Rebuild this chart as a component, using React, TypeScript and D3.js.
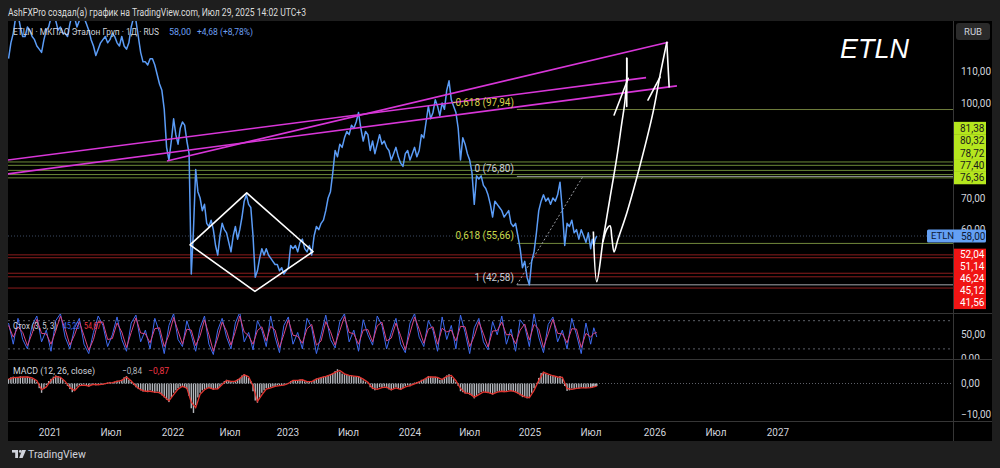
import React from 'react';
import * as d3 from 'd3';

const W = 1000;
const H = 468;

// ---------- data ----------
const headerText = 'AshFXPro создал(а) график на TradingView.com, Июл 29, 2025 14:02 UTC+3';
const symbolText = 'ETLN · МКПАО Эталон Груп · 1Д · RUS';
const lastPriceText = '58,00';
const changeText = '+4,68 (+8,78%)';

// weekly closes from 2020-08-31 to 2025-07-28
const seriesStart = new Date(2020, 7, 31);
const closeWeekly = [
  114, 119, 122, 127, 128, 124, 121, 121, 124, 123,
  121, 120, 118, 117, 116, 120, 123, 124, 127, 128,
  126, 123, 124, 122, 122, 121, 125, 128, 127, 124,
  126, 129, 127, 125, 123, 120, 118, 115, 117, 119,
  120, 121, 119, 120, 122, 121, 119, 118, 121, 118,
  117, 119, 124, 127, 126, 121, 116, 113, 113, 112,
  114, 114, 112, 109, 106, 104, 98, 86, 82, 88,
  95, 90, 87, 92, 94, 93, 88, 84, 46, 60,
  79, 72, 70, 66, 68, 62, 61, 63, 60, 55,
  52, 58, 62, 60, 59, 56, 53, 58, 61, 57,
  60, 64, 69, 71, 68, 67, 58, 45, 47, 51,
  54, 52, 54, 52, 51, 50, 49, 49, 47, 48,
  46, 47, 48, 55, 54, 55, 53, 56, 57, 54,
  53, 55, 52, 58, 61, 60, 62, 63, 66, 70,
  72, 78, 85, 83, 87, 86, 89, 91, 90, 93,
  92, 94, 97, 92, 88, 91, 90, 85, 88, 84,
  87, 90, 87, 88, 86, 85, 82, 84, 86, 83,
  81, 80, 84, 85, 82, 84, 86, 83, 85, 90,
  89, 94, 99, 95, 97, 101, 99, 96, 100, 98,
  104, 107, 101, 99, 97, 92, 82, 89, 87, 84,
  82, 78, 68, 77, 76, 77, 74, 73, 71, 68,
  64, 69, 68, 67, 66, 64, 65, 66, 62, 61,
  62, 58, 54, 48, 50, 45, 42.58, 50, 53, 59,
  66, 69, 71, 69, 70, 68, 70, 69, 71, 75,
  66, 55, 62, 61, 63, 59, 60, 57, 60, 58,
  56, 59, 54, 57, 55, 57, 58,
];

// stochastic (3,5,3), every two weeks
const stochK = [
  75, 30, 85, 40, 20, 70, 90, 35, 60, 15,
  80, 95, 45, 20, 65, 85, 30, 10, 55, 90,
  70, 25, 50, 88, 40, 15, 75, 92, 35, 60,
  20, 85, 55, 10, 70, 95, 40, 25, 80, 50,
  15, 65, 90, 30, 8, 60, 85, 45, 20, 75,
  98, 35, 55, 18, 80, 60, 25, 90, 45, 12,
  70, 88, 30, 55, 20, 85, 65, 10, 50, 92,
  40, 22, 78, 95, 35, 60, 15, 82, 50, 28,
  90, 70, 20, 55, 85, 30, 12, 75, 95, 45,
  25, 80, 60, 15, 88, 40, 70, 20, 92, 55,
  10, 65, 85, 35, 18, 78, 50, 90, 30, 62,
  15, 82, 68, 25, 95, 45, 12, 72, 88, 35,
  60, 20, 85, 50, 10, 75, 30, 65, 45.23,
];
const stochD = [
  70, 45, 67, 55, 27, 53, 83, 53, 52, 30,
  58, 90, 62, 28, 50, 78, 48, 17, 40, 78,
  77, 40, 42, 75, 56, 23, 55, 86, 54, 52,
  33, 63, 65, 25, 50, 87, 58, 30, 62, 60,
  27, 48, 82, 50, 15, 43, 77, 58, 28, 57,
  90, 56, 48, 30, 59, 67, 37, 68, 60, 23,
  51, 82, 49, 47, 32, 63, 72, 28, 37, 78,
  57, 28, 59, 89, 55, 52, 30, 60, 61, 35,
  69, 77, 37, 43, 75, 48, 18, 54, 88, 62,
  32, 62, 67, 30, 64, 56, 60, 37, 68, 67,
  25, 47, 78, 52, 24, 58, 59, 77, 50, 51,
  31, 60, 73, 39, 72, 62, 23, 52, 83, 53,
  52, 33, 63, 62, 23, 53, 45, 53, 54.67,
];

// MACD (12, 26, close): weekly histogram, signal every two weeks
const macdHist = [
  1.5, 2, 2.2, 1.8, 2, 2.3, 2.1, 1.9, 2.2, 2,
  1.6, 1.2, 0.5, -1.5, -3, -1.8, -0.5, 0.8, 1.5, 2.2,
  2.6, 2.4, 1.8, 1.2, 0.2, -0.8, -1.8, -2.8, -2, -1,
  -0.5, -0.8, -0.3, -0.6, -1, -0.4, -0.2, -0.6, -0.3, 0.2,
  -0.4, -0.2, 0.3, 0.5, 0.2, 0.6, 0.9, 0.7, 1.2, 2,
  2.4, 1.2, 0.5, -0.5, -1.2, -1.8, -2.2, -2.6, -2.4, -2.8,
  -2.2, -2.5, -3, -2.6, -3.2, -3.8, -4.5, -5.2, -6, -4.5,
  -3, -2.2, -1.5, -1, -0.8, -1.2, -1.8, -4, -8, -9.5,
  -7, -4.5, -3, -2.2, -1.8, -1.4, -1.2, -1.6, -2, -1.6,
  -1.8, -1, 0.2, 0.8, 1.2, 0.9, 0.5, 0.4, 0.9, 1.4,
  1.8, 2.6, 3, 2.6, 1.8, 0.8, -2.5, -5.5, -6.2, -4.5,
  -3, -2.2, -1.5, -1.6, -1.2, -1, -0.8, -0.6, -0.8, -0.5,
  -0.4, -0.3, 0.2, 0.8, 1.1, 0.9, 1, 1.3, 1.1, 0.7,
  0.5, 0.8, 0.4, 1.2, 1.6, 1.8, 2, 2.2, 2.4, 2.7,
  3, 3.3, 4, 4.6, 3.8, 3.2, 3, 2.8, 2.5, 2.6,
  2.3, 2.1, 2.4, 1.8, 1, 0.6, 0.3, -1.2, -1.8, -2.2,
  -1.6, -1.2, -1.4, -1, -1.5, -1.9, -2.2, -1.6, -1.2, -1.8,
  -2.1, -1.5, -0.8, -0.6, -0.9, -0.4, 0.3, 0.5, 0.6, 1.2,
  1.4, 1.8, 2.4, 2.2, 2, 2.2, 1.8, 1.2, 1.5, 2,
  2.6, 3, 2.2, 1.4, 0.5, -0.8, -2.5, -2.8, -3.2, -3,
  -3.6, -4, -4.8, -4, -3.2, -2.8, -2.6, -2.8, -3, -3.2,
  -3.6, -3, -2.6, -2.4, -2.6, -2.8, -2.4, -2.2, -2.5, -2.6,
  -2.8, -3.2, -3.8, -4.4, -4.2, -4.8, -4.4, -3, -1.5, 0.2,
  1.8, 3.4, 3.8, 3.2, 2.8, 2.6, 2.4, 2.2, 2, 2.4,
  1.6, -0.8, -2.4, -2.2, -1.6, -1.8, -1.4, -1.6, -1.2, -1.4,
  -1.5, -1.2, -1.4, -1.3, -1, -0.9, -0.84,
];
const macdSignal = [
  1.4, 1.9, 2.0, 2.1, 2.1, 1.8, 0.9, -2.0, -1.1, 1.1,
  2.3, 2.0, 0.7, -1.3, -2.3, -0.7, -0.5, -0.8, -0.3, -0.4,
  -0.2, 0.1, 0.3, 0.7, 1.0, 2.1, 0.8, -0.9, -2.0, -2.5,
  -2.5, -2.8, -2.9, -4.2, -5.6, -3.6, -1.8, -0.9, -1.5, -6.0,
  -7.8, -3.5, -2.0, -1.3, -1.8, -1.7, -0.3, 1.0, 0.7, 0.7,
  1.6, 2.8, 2.2, -0.8, -5.8, -3.7, -1.8, -1.4, -0.9, -0.7,
  -0.5, 0.0, 1.0, 1.0, 1.2, 0.6, 0.6, 1.4, 1.9, 2.3,
  2.8, 3.6, 4.2, 3.1, 2.6, 2.4, 2.2, 1.4, 0.4, -1.5,
  -1.9, -1.3, -1.2, -2.0, -1.4, -1.9, -1.1, -0.7, -0.1, 0.5,
  1.3, 2.1, 2.1, 2.0, 1.3, 2.3, 2.6, 0.9, -1.6, -3.0,
  -3.3, -4.4, -3.6, -2.7, -2.9, -3.4, -2.8, -2.5, -2.6, -2.3,
  -2.7, -3.5, -4.3, -4.6, -2.2, 1.0, 3.6, 3.0, 2.5, 2.1,
  2.0, -1.6, -1.9, -1.6, -1.4, -1.4, -1.3, -1.1, -0.87,
];

// horizontal levels
const greenLevels = [81.38, 80.32, 78.72, 77.4, 76.36];
const redLevels = [52.04, 51.14, 46.24, 45.12, 41.56];
const lastPrice = 58;

// fibonacci retracement
const fibRatios = ['-0,618', '0', '0,618', '1'];
const fibValues = [97.94, 76.8, 55.66, 42.58];
const fibColors = ['#d9cf4c', '#c9ccd4', '#c8d84a', '#c9ccd4'];
const fibLineColors = ['#6f7d3c', '#8d8f95', '#72883c', '#a5a7ad'];
const fibAnchorA: [string, number] = ['2024-11-22', 42.58];
const fibAnchorB: [string, number] = ['2025-06-07', 76.8];

// trend lines (magenta)
const trendLines: [string, number][][] = [
  [['2021-12-14', 81.7], ['2026-02-09', 119.2]],
  [['2020-08-29', 82.0], ['2025-12-08', 108.0]],
  [['2020-08-29', 77.6], ['2026-03-07', 105.4]],
];

// diamond pattern
const diamond: [string, number][] = [
  ['2022-02-24', 55.2], ['2022-08-23', 71.6], ['2023-03-17', 53.1], ['2022-09-18', 40.5],
];

// hand-drawn forecast arrows
const arrowA: [string, number][] = [
  ['2025-07-12', 59.4], ['2025-07-28', 43.6], ['2025-08-15', 57.3], ['2025-09-02', 70.0],
  ['2025-09-20', 82.6], ['2025-10-03', 93.1], ['2025-10-12', 100.4], ['2025-10-17', 107.8],
  ['2025-10-17', 114.2],
];
const arrowAHead: [string, number][][] = [
  [['2025-10-17', 114.2], ['2025-10-17', 98.9]],
  [['2025-09-13', 96.2], ['2025-10-21', 107.8]],
];
const arrowB: [string, number][] = [
  ['2025-08-14', 56.2], ['2025-08-25', 60.3], ['2025-09-02', 61.2], ['2025-09-07', 57.4],
  ['2025-09-13', 53.0], ['2025-09-23', 56.8], ['2025-10-18', 65.6], ['2025-11-22', 80.4],
  ['2025-12-27', 97.2], ['2026-01-16', 108.8], ['2026-02-05', 119.2],
];
const arrowBHead: [string, number][][] = [
  [['2026-02-05', 119.2], ['2026-02-12', 105.1]],
  [['2025-12-13', 100.9], ['2026-01-16', 108.2]],
];

// axes
const priceTicks = [110, 100, 70, 60];
const stochTicks = [50, 0];
const macdTicks = [0, -10];
const timeTickDates = [
  '2021-01-01', '2021-07-01', '2022-01-01', '2022-07-01', '2023-01-01', '2023-07-01', '2024-01-01',
  '2024-07-01', '2025-01-01', '2025-07-01', '2026-01-01', '2026-07-01', '2027-01-01',
];
const timeTickLabels = ['2021', 'Июл', '2022', 'Июл', '2023', 'Июл', '2024', 'Июл', '2025', 'Июл', '2026', 'Июл', '2027'];

// TradingView's time axis is bar-based, so the calendar is squeezed unevenly
const timeAnchors = ['2021-01-01', '2022-01-01', '2023-01-01', '2024-01-01', '2025-01-01', '2025-07-01', '2025-07-29', '2026-01-01', '2027-01-01'];
const timeAnchorX = [50, 173, 288, 410, 530, 591, 597, 655, 778];

// ---------- layout ----------
const L = 8;
const AXIS_X = 953;
const RIGHT = 992;
const MAIN = { top: 21, bottom: 313 };
const STOCH = { top: 314, bottom: 359 };
const MACD = { top: 360, bottom: 421 };
const TIME = { top: 422, bottom: 441 };

const FONT = "Roboto, 'DejaVu Sans', sans-serif";
const TXT = '#d1d4dc';

const parseDay = d3.timeParse('%Y-%m-%d') as (s: string) => Date;
const fmt = (v: number) => d3.format('.2f')(v).replace('.', ',');

export default function App() {
  const x = d3.scaleTime().domain(timeAnchors.map(parseDay)).range(timeAnchorX);
  const yP = d3.scaleLinear().domain([100, 70]).range([103, 198]);
  const yS = d3.scaleLinear().domain([0, 100]).range([358.3, 311.3]);
  const yM = d3.scaleLinear().domain([0, -10]).range([383.5, 414.5]);

  const weekDate = (i: number) => d3.timeDay.offset(seriesStart, 7 * i);
  const biDate = (j: number) => d3.timeDay.offset(seriesStart, 14 * j);

  const priceLine = d3.line<number>().x((_, i) => x(weekDate(i))).y((d) => yP(d))(closeWeekly) || '';
  const kLine = d3.line<number>().x((_, j) => x(biDate(j))).y((d) => yS(d))(stochK) || '';
  const dLine = d3.line<number>().x((_, j) => x(biDate(j))).y((d) => yS(d))(stochD) || '';
  const sigLine = d3.line<number>().x((_, j) => x(biDate(j))).y((d) => yM(d))(macdSignal) || '';

  const pt = d3.line<[string, number]>().x((d) => x(parseDay(d[0]))).y((d) => yP(d[1]));
  const curvy = d3.line<[string, number]>().x((d) => x(parseDay(d[0]))).y((d) => yP(d[1])).curve(d3.curveCatmullRom.alpha(0.5));
  const closed = d3.line<[string, number]>().x((d) => x(parseDay(d[0]))).y((d) => yP(d[1])).curve(d3.curveLinearClosed);

  // price-axis label stacking (labels pushed apart like TradingView does)
  const greenSorted = [...greenLevels].sort((a, b) => a - b);
  const greenY: number[] = [];
  greenSorted.forEach((p, k) => {
    const y0 = yP(p);
    greenY.push(k === 0 ? y0 : Math.min(y0, greenY[k - 1] - 12.4));
  });
  const redSorted = [...redLevels].sort((a, b) => b - a);
  const redY: number[] = [];
  redSorted.forEach((p, k) => {
    const y0 = yP(p);
    redY.push(k === 0 ? y0 : Math.max(y0, redY[k - 1] + 12));
  });

  const fibX0 = x(parseDay(fibAnchorA[0]));
  const yLast = yP(lastPrice);

  return (
    <div>
      <style>{'body{margin:0;background:#1e1e1e;}'}</style>
      <svg width={W} height={H} style={{ display: 'block', fontFamily: FONT }}>
        <defs>
          <clipPath id="clipMain"><rect x={L} y={MAIN.top} width={AXIS_X - L} height={MAIN.bottom - MAIN.top} /></clipPath>
          <clipPath id="clipStoch"><rect x={L} y={STOCH.top} width={AXIS_X - L} height={STOCH.bottom - STOCH.top} /></clipPath>
          <clipPath id="clipMacd"><rect x={L} y={MACD.top} width={AXIS_X - L} height={MACD.bottom - MACD.top} /></clipPath>
          <clipPath id="clipAxS"><rect x={AXIS_X} y={STOCH.top} width={RIGHT - AXIS_X} height={STOCH.bottom - STOCH.top} /></clipPath>
          <clipPath id="clipAxM"><rect x={AXIS_X} y={MACD.top} width={RIGHT - AXIS_X} height={MACD.bottom - MACD.top} /></clipPath>
        </defs>

        <rect x={0} y={0} width={W} height={H} fill="#1e1e1e" />
        <text x={8} y={16} fill="#dcdcdc" fontSize={10} textLength={298} lengthAdjust="spacingAndGlyphs">{headerText}</text>

        {/* chart frame */}
        <rect x={L} y={MAIN.top} width={RIGHT - L} height={TIME.bottom - MAIN.top} fill="#000" />

        {/* ---------- main pane ---------- */}
        <g clipPath="url(#clipMain)">
          {greenLevels.map((p) => (
            <line key={'g' + p} x1={L} x2={AXIS_X} y1={yP(p)} y2={yP(p)} stroke="#6c8a38" strokeWidth={1} />
          ))}
          {redLevels.map((p) => (
            <line key={'r' + p} x1={L} x2={AXIS_X} y1={yP(p)} y2={yP(p)} stroke="#8c1d1d" strokeWidth={1} />
          ))}
          <line x1={L} x2={AXIS_X} y1={yLast} y2={yLast} stroke="#3d4a63" strokeDasharray="1,2" />

          {fibValues.map((v, k) => (
            <line key={'f' + k} x1={fibX0} x2={AXIS_X} y1={yP(v)} y2={yP(v)} stroke={fibLineColors[k]} strokeWidth={1} />
          ))}
          <path d={pt([fibAnchorA, fibAnchorB]) || ''} stroke="#9a9ca2" strokeWidth={1} strokeDasharray="2,2" fill="none" />

          <path d={priceLine} stroke="#5b9cf6" strokeWidth={1.5} fill="none" strokeLinejoin="round" />

          {trendLines.map((seg, k) => (
            <path key={'t' + k} d={pt(seg) || ''} stroke="#d836d8" strokeWidth={1.6} fill="none" />
          ))}

          <path d={closed(diamond) || ''} stroke="#fff" strokeWidth={1.6} fill="none" strokeLinejoin="round" />
          <path d={curvy(arrowA) || ''} stroke="#fff" strokeWidth={1.6} fill="none" strokeLinejoin="round" />
          <path d={curvy(arrowB) || ''} stroke="#fff" strokeWidth={1.6} fill="none" strokeLinejoin="round" />
          {[...arrowAHead, ...arrowBHead].map((seg, k) => (
            <path key={'h' + k} d={pt(seg) || ''} stroke="#fff" strokeWidth={1.6} fill="none" strokeLinecap="round" />
          ))}

          {fibValues.map((v, k) => (
            <text key={'fl' + k} x={fibX0 - 3} y={yP(v) - 4} fill={fibColors[k]} fontSize={10} textAnchor="end">
              {`${fibRatios[k]} (${fmt(v)})`}
            </text>
          ))}
        </g>

        {/* legend */}
        <text x={13} y={35} fontSize={8.5} fill={TXT} textLength={146} lengthAdjust="spacingAndGlyphs">{symbolText}</text>
        <text x={169} y={35} fontSize={9} fill="#6c9ff0" textLength={22} lengthAdjust="spacingAndGlyphs">{lastPriceText}</text>
        <text x={197} y={35} fontSize={9} fill="#6c9ff0" textLength={56} lengthAdjust="spacingAndGlyphs">{changeText}</text>
        <text x={840} y={58} fontSize={27} fontStyle="italic" fill="#fff" fontFamily="'Liberation Sans', Arial, sans-serif">ETLN</text>

        {/* ---------- stochastic pane ---------- */}
        <g clipPath="url(#clipStoch)">
          {[80, 20].map((v) => (
            <line key={'s' + v} x1={L} x2={AXIS_X} y1={yS(v)} y2={yS(v)} stroke="#5d6068" strokeDasharray="2,3" />
          ))}
          <path d={kLine} stroke="#3f6cf2" strokeWidth={1} fill="none" />
          <path d={dLine} stroke="#d94582" strokeWidth={1} fill="none" />
        </g>
        <text x={13} y={329} fontSize={8.5} fill={TXT} textLength={44} lengthAdjust="spacingAndGlyphs">Стох (3, 5, 3)</text>
        <text x={63} y={329} fontSize={9} fill="#3f6cf2" textLength={17} lengthAdjust="spacingAndGlyphs">{fmt(stochK[stochK.length - 1])}</text>
        <text x={84} y={329} fontSize={9} fill="#f23645" textLength={17} lengthAdjust="spacingAndGlyphs">{fmt(stochD[stochD.length - 1])}</text>

        {/* ---------- MACD pane ---------- */}
        <g clipPath="url(#clipMacd)">
          <line x1={L} x2={AXIS_X} y1={yM(0)} y2={yM(0)} stroke="#5d6068" strokeDasharray="1,2" />
          {macdHist.map((v, i) => {
            const cx = x(weekDate(i));
            const y0 = yM(0);
            const y1 = yM(v);
            return <rect key={'m' + i} x={cx - 0.7} width={1.4} y={Math.min(y0, y1)} height={Math.max(0.6, Math.abs(y1 - y0))} fill="#b4b7bd" />;
          })}
          <path d={sigLine} stroke="#e0342f" strokeWidth={1.3} fill="none" />
        </g>
        <text x={13} y={374} fontSize={9.5} fill={TXT} textLength={82} lengthAdjust="spacingAndGlyphs">MACD (12, 26, close)</text>
        <text x={122} y={374} fontSize={9.5} fill="#b4b7bd" textLength={20} lengthAdjust="spacingAndGlyphs">{fmt(macdHist[macdHist.length - 1])}</text>
        <text x={148} y={374} fontSize={9.5} fill="#f23645" textLength={21} lengthAdjust="spacingAndGlyphs">{fmt(macdSignal[macdSignal.length - 1])}</text>

        {/* ---------- pane separators ---------- */}
        {[MAIN.bottom + 0.5, STOCH.bottom + 0.5, MACD.bottom + 0.5].map((y) => (
          <line key={'sep' + y} x1={L} x2={RIGHT} y1={y} y2={y} stroke="#363636" />
        ))}
        <line x1={AXIS_X + 0.5} x2={AXIS_X + 0.5} y1={MAIN.top} y2={TIME.bottom} stroke="#363636" />

        {/* ---------- price axis ---------- */}
        <rect x={956} y={23} width={34} height={17} rx={3} fill="#2a2a2a" />
        <text x={973} y={35} fontSize={9.5} fill={TXT} textAnchor="middle">RUB</text>
        {priceTicks.map((v) => (
          <text key={'pt' + v} x={961} y={yP(v)} dy="0.35em" fontSize={10} fill={TXT}>{fmt(v)}</text>
        ))}
        {greenSorted.map((p, k) => (
          <g key={'gl' + p}>
            <rect x={954} y={greenY[k] - 6.4} width={32} height={12.8} fill="#b5e61e" />
            <text x={960} y={greenY[k]} dy="0.35em" fontSize={10} fill="#1b1b1b">{fmt(p)}</text>
          </g>
        ))}
        {redSorted.map((p, k) => (
          <g key={'rl' + p}>
            <rect x={954} y={redY[k] - 6.2} width={32} height={12.4} fill="#f01414" />
            <text x={960} y={redY[k]} dy="0.35em" fontSize={10} fill="#fff">{fmt(p)}</text>
          </g>
        ))}
        <rect x={927} y={yLast - 6.5} width={59} height={13} rx={1.5} fill="#64a0f4" />
        <text x={931} y={yLast} dy="0.35em" fontSize={9.5} fill="#0e1a33">ETLN</text>
        <text x={961} y={yLast} dy="0.35em" fontSize={10} fill="#0e1a33">{fmt(lastPrice)}</text>

        <g clipPath="url(#clipAxS)">
          {stochTicks.map((v) => (
            <text key={'st' + v} x={961} y={yS(v)} dy="0.35em" fontSize={10} fill={TXT}>{fmt(v)}</text>
          ))}
        </g>
        <g clipPath="url(#clipAxM)">
          {macdTicks.map((v) => (
            <text key={'mt' + v} x={961} y={yM(v)} dy="0.35em" fontSize={10} fill={TXT}>{fmt(v)}</text>
          ))}
        </g>

        {/* ---------- time axis ---------- */}
        {timeTickDates.map((d, k) => (
          <text key={'tt' + d} x={x(parseDay(d))} y={432} dy="0.35em" fontSize={10} fill={TXT} textAnchor="middle">
            {timeTickLabels[k]}
          </text>
        ))}

        {/* TradingView logo */}
        <g fill="#d1d4dc">
          <rect x={12} y={450} width={6} height={2.6} />
          <rect x={15.2} y={450} width={2.8} height={8} />
          <circle cx={20.3} cy={451.4} r={1.4} />
          <polygon points="22,450 26,450 22.6,458 19.2,458" />
        </g>
        <text x={28} y={458} fontSize={10.5} fill="#d1d4dc">TradingView</text>
      </svg>
    </div>
  );
}
